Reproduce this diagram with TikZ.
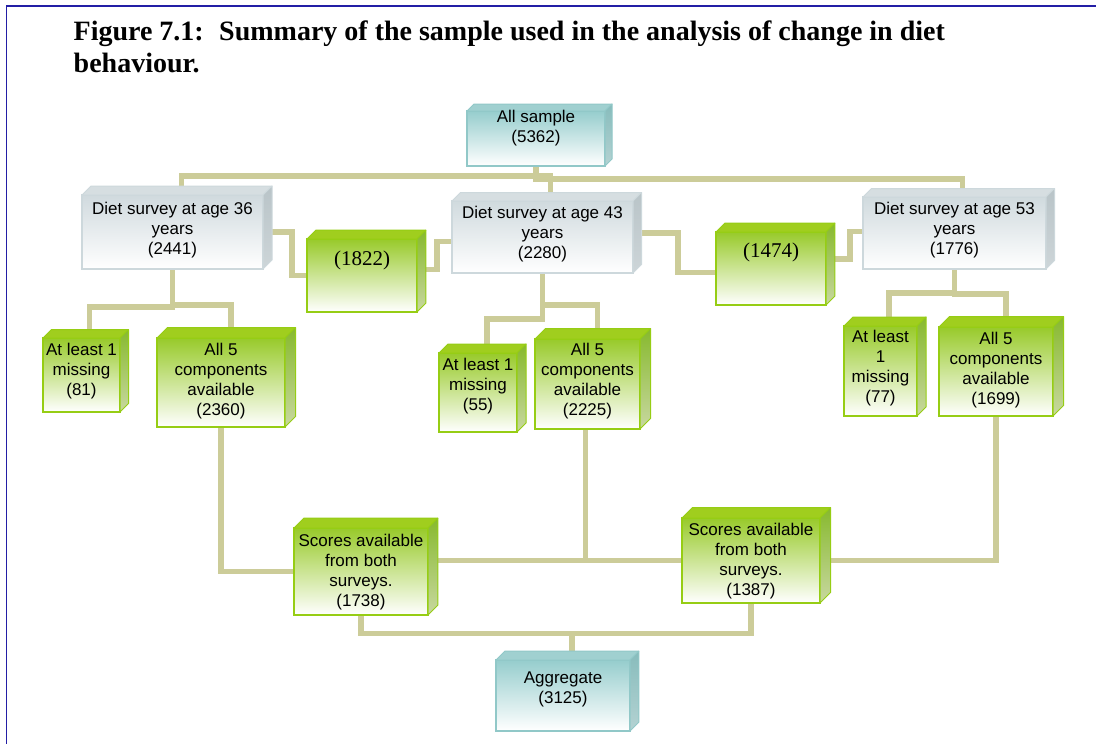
\documentclass[tikz,border=0pt]{standalone}
\usepackage{fontspec}
\setmainfont{Liberation Serif}
\newfontfamily\arialish{Liberation Sans}
\newfontfamily\timesish{Liberation Serif}
\usetikzlibrary{calc}
\pgfdeclarelayer{paper}
\pgfdeclarelayer{back}
\pgfsetlayers{paper,back,main}

\definecolor{connc}{RGB}{204,204,153}
\definecolor{framec}{RGB}{35,30,165}
% green boxes
\definecolor{greenedge}{RGB}{150,205,20}
\definecolor{greentop}{RGB}{152,202,42}
\definecolor{greenmid}{RGB}{210,231,180}
\definecolor{greenlid}{RGB}{160,206,30}
\definecolor{greensideA}{RGB}{135,185,45}
\definecolor{greensideB}{RGB}{200,216,160}
% grey boxes
\definecolor{greyedge}{RGB}{205,216,220}
\definecolor{greytop}{RGB}{208,218,222}
\definecolor{greymid}{RGB}{228,234,236}
\definecolor{greylid}{RGB}{214,222,225}
\definecolor{greysideA}{RGB}{185,196,200}
\definecolor{greysideB}{RGB}{205,213,216}
% teal boxes
\definecolor{cyanedge}{RGB}{145,200,200}
\definecolor{cyantop}{RGB}{150,205,205}
\definecolor{cyanmid}{RGB}{205,230,230}
\definecolor{cyanlid}{RGB}{160,208,208}
\definecolor{cyansideA}{RGB}{135,188,188}
\definecolor{cyansideB}{RGB}{180,210,210}

\tikzset{
  conn/.style={draw=connc, line width=5.2pt},
  boxtext/.style={align=center, inner sep=0pt, text=black,
    font=\arialish\fontsize{17}{20}\selectfont},
  title/.style={inner sep=0pt, font=\bfseries\fontsize{28}{32}\selectfont},
  green front/.style={draw=greenedge, line width=1.3pt, top color=greentop,
    middle color=greenmid, bottom color=white},
  green top/.style={fill=greenlid, draw=greenedge, line width=1pt, line join=round},
  green side/.style={top color=greensideA, bottom color=greensideB,
    draw=greenedge, line width=1pt, line join=round},
  grey front/.style={draw=greyedge, line width=1.3pt, top color=greytop,
    middle color=greymid, bottom color=white},
  grey top/.style={fill=greylid, draw=greyedge, line width=1pt, line join=round},
  grey side/.style={top color=greysideA, bottom color=greysideB,
    draw=greyedge, line width=1pt, line join=round},
  cyan front/.style={draw=cyanedge, line width=1.3pt, top color=cyantop,
    middle color=cyanmid, bottom color=white},
  cyan top/.style={fill=cyanlid, draw=cyanedge, line width=1pt, line join=round},
  cyan side/.style={top color=cyansideA, bottom color=cyansideB,
    draw=cyanedge, line width=1pt, line join=round},
}

% #1 name, #2 colour scheme, #3-#6 front face corners, #7 depth,
% #8 vertical position of the text, #9 text
\newcommand\threedbox[9]{%
  \pgfmathsetmacro\cbw{#5-#3}%
  \pgfmathsetmacro\cbh{#6-#4}%
  \node[#2 front, minimum width=\cbw pt, minimum height=\cbh pt,
        anchor=north west, inner sep=0pt, outer sep=0pt] (#1) at (#3,#4) {};
  \path[#2 top] (#1.north west) -- ++(#7,-#7) -- ($(#1.north east)+(#7,-#7)$)
        -- (#1.north east) -- cycle;
  \path[#2 side] (#1.north east) -- ++(#7,-#7) -- ($(#1.south east)+(#7,-#7)$)
        -- (#1.south east) -- cycle;
  \node[boxtext] (#1-t) at (#1.center |- 0,#8) {#9};
}

\begin{document}
\begin{tikzpicture}[x=1pt, y=-1pt]
\useasboundingbox (0,0) rectangle (1096,744);
\begin{pgfonlayer}{paper}
  \fill[white] (0,0) rectangle (1096,744);
\end{pgfonlayer}
\draw[framec, line width=1.4pt] (6.5,744) -- (6.5,6) -- (1096,6);

\node[title, anchor=base west] (title1) at (73.5,40)
  {Figure 7.1:\hspace{0.55em}Summary of the sample used in the analysis of change in diet};
\node[title, anchor=base west] (title2) at (73.5,72) {behaviour.};

% boxes
\threedbox{allS}{cyan}{467}{111}{605}{166}{7}{128}{All sample\\(5362)}
\threedbox{d36}{grey}{82}{195}{263}{269}{9}{230}{Diet survey at age 36\\years\\(2441)}
\threedbox{d43}{grey}{452}{201}{633}{273}{8.5}{234}{Diet survey at age 43\\years\\(2280)}
\threedbox{d53}{grey}{863}{197}{1046}{269}{8.5}{230}{Diet survey at age 53\\years\\(1776)}
\threedbox{c1822}{green}{307}{239}{417}{312}{8.8}{260}{\timesish\fontsize{21}{24}\selectfont(1822)}
\threedbox{c1474}{green}{716}{232}{826}{305}{8.8}{252}{\timesish\fontsize{21}{24}\selectfont(1474)}
\threedbox{m81}{green}{43}{338}{120}{412}{8.5}{371}{At least 1\\missing\\(81)}
\threedbox{a2360}{green}{157}{338}{285}{427}{10.5}{381.5}{All 5\\components\\available\\(2360)}
\threedbox{m55}{green}{439}{353}{517}{432}{9}{386}{At least 1\\missing\\(55)}
\threedbox{a2225}{green}{535}{339}{640}{429}{10.5}{381}{All 5\\components\\available\\(2225)}
\threedbox{m77}{green}{844}{326}{917}{416}{9}{368}{At least\\1\\missing\\(77)}
\threedbox{a1699}{green}{939}{327}{1053}{416}{10.5}{370.5}{All 5\\components\\available\\(1699)}
\threedbox{s1738}{green}{294}{528}{428}{615}{9.8}{572.5}{Scores available\\from both\\surveys.\\(1738)}
\threedbox{s1387}{green}{682}{518}{820}{603}{10.5}{561.5}{Scores available\\from both\\surveys.\\(1387)}
\threedbox{agg}{cyan}{496}{660}{630}{731}{8.8}{689}{Aggregate\\(3125)}

% connectors, behind the boxes
\begin{pgfonlayer}{back}
  \draw[conn] (allS.south) -- ++(0,10) -| ($(d36.north)+(9,0)$);
  \draw[conn] (allS.south) -- ++(0,13) -| ($(d53.north)+(8,0)$);
  \draw[conn] (allS.south) -- ++(0,10) -| ($(d43.north)+(8,0)$);

  \draw[conn] (d36.east) -- ++(29,0) |- (c1822.west);
  \draw[conn] ($(c1822.east)+(0,-6)$) -- ++(20,0) |- ($(d43.west)+(0,4.5)$);
  \draw[conn] ($(d43.east)+(0,-4)$) -- ++(45,0) |- ($(c1474.west)+(0,4)$);
  \draw[conn] ($(c1474.east)+(0,-9.5)$) -- ++(24,0) |- ($(d53.west)+(0,-1.5)$);

  \draw[conn] (d36.south) -- ++(0,38) -| ($(m81.north)+(8,0)$);
  \draw[conn] (d36.south) -- ++(0,36) -| ($(a2360.north)+(10,0)$);
  \draw[conn] (d43.south) -- ++(0,46) -| ($(m55.north)+(9,0)$);
  \draw[conn] (d43.south) -- ++(0,32) -| ($(a2225.north)+(10,0)$);
  \draw[conn] (d53.south) -- ++(0,24) -| ($(m77.north)+(8.5,0)$);
  \draw[conn] (d53.south) -- ++(0,25) -| ($(a1699.north)+(10,0)$);

  \draw[conn] (a2360.south) |- (s1738.west);
  \draw[conn] ($(s1738.east)+(0,-11)$) -- (s1387.west);
  \draw[conn] ($(a2225.south)+(-2,0)$) -- ($(a2225.south |- s1387.west)+(-2,0)$);
  \draw[conn] (a1699.south) |- (s1387.east);

  \draw[conn] (s1738.south) -- ++(0,18.5) coordinate (aggbar) -| (s1387.south);
  \draw[conn] ($(agg.north)+(9,0)$) |- (aggbar);
\end{pgfonlayer}
\end{tikzpicture}
\end{document}
